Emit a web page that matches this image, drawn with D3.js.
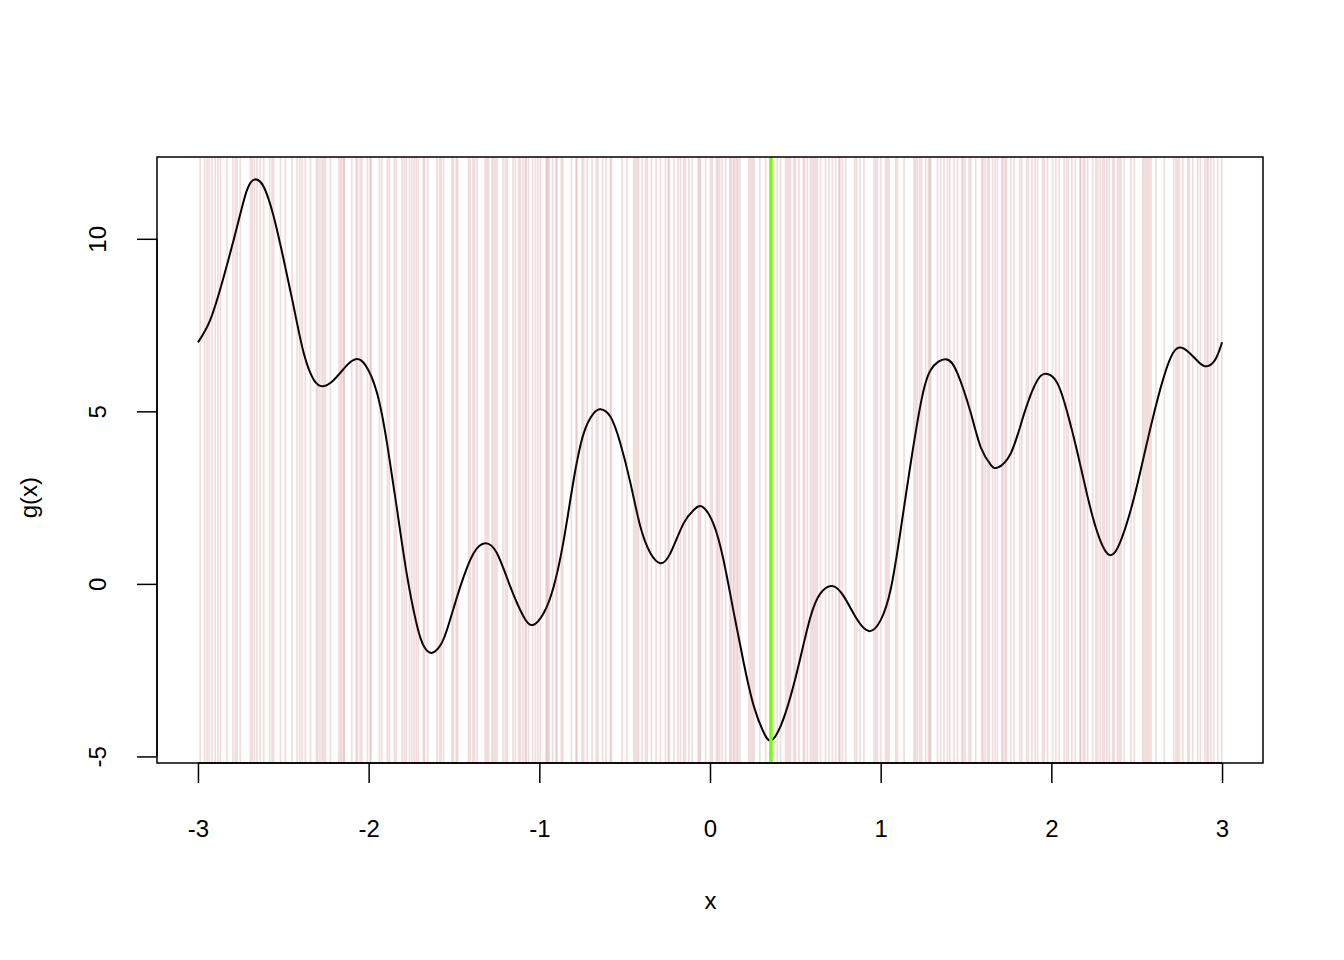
<!DOCTYPE html>
<html>
<head>
<meta charset="utf-8">
<script src="https://cdn.jsdelivr.net/npm/d3@7"></script>
<style>
  html, body { margin: 0; padding: 0; background: #fff; }
  svg { display: block; }
  text { font-family: "Liberation Sans", Arial, Helvetica, sans-serif; }
</style>
</head>
<body>
<svg id="chart" width="1344" height="960"></svg>
<script>
// ---- data ----
const curveX = [-3.0,-2.928,-2.849,-2.771,-2.713,-2.667,-2.615,-2.556,-2.497,-2.439,-2.380,-2.321,-2.267,-2.204,-2.136,-2.077,-2.019,-1.950,-1.892,-1.833,-1.774,-1.716,-1.675,-1.630,-1.585,-1.541,-1.463,-1.385,-1.317,-1.248,-1.170,-1.092,-1.037,-0.975,-0.916,-0.857,-0.799,-0.740,-0.682,-0.642,-0.584,-0.525,-0.466,-0.408,-0.349,-0.290,-0.232,-0.154,-0.095,-0.046,0.022,0.081,0.140,0.198,0.257,0.316,0.359,0.413,0.472,0.531,0.589,0.648,0.717,0.785,0.863,0.935,1.000,1.059,1.117,1.176,1.235,1.293,1.381,1.450,1.528,1.587,1.645,1.684,1.762,1.841,1.919,1.978,2.036,2.095,2.154,2.212,2.271,2.339,2.408,2.486,2.564,2.642,2.701,2.750,2.808,2.867,2.916,2.965,3.0];
const curveY = [7.0,7.65,8.90,10.35,11.41,11.72,11.51,10.64,9.38,8.03,6.68,5.91,5.73,5.91,6.29,6.51,6.34,5.52,4.07,2.14,0.21,-1.22,-1.82,-2.00,-1.82,-1.33,-0.08,0.89,1.18,0.89,-0.08,-0.95,-1.19,-0.85,-0.08,1.27,3.01,4.36,4.94,5.06,4.85,4.07,2.92,1.66,0.89,0.60,0.89,1.76,2.14,2.24,1.72,0.65,-0.85,-2.30,-3.55,-4.32,-4.54,-4.13,-3.26,-2.11,-0.95,-0.27,-0.06,-0.37,-1.04,-1.37,-1.05,-0.15,1.56,3.50,5.23,6.20,6.51,6.10,4.95,3.95,3.45,3.37,3.78,4.94,5.91,6.08,5.81,4.94,3.78,2.53,1.47,0.84,1.27,2.53,4.17,5.71,6.58,6.85,6.70,6.41,6.31,6.54,7.0];

const samples = [-2.987,-2.961,-2.947,-2.934,-2.918,-2.899,-2.883,-2.869,-2.830,-2.795,-2.781,-2.771,-2.752,-2.693,-2.683,-2.670,-2.654,-2.635,-2.615,-2.580,-2.566,-2.556,-2.517,-2.488,-2.449,-2.419,-2.404,-2.390,-2.371,-2.341,-2.306,-2.298,-2.286,-2.273,-2.263,-2.253,-2.224,-2.175,-2.165,-2.145,
-2.157,-2.144,-2.099,-2.073,-2.066,-2.050,-2.040,-2.007,-1.991,-1.985,-1.937,-1.923,-1.890,-1.878,-1.849,-1.839,-1.805,-1.792,-1.780,-1.761,-1.747,-1.733,-1.721,-1.708,-1.679,-1.673,-1.655,-1.600,-1.585,-1.575,-1.561,-1.512,-1.503,-1.487,-1.479,-1.415,-1.405,-1.389,-1.379,-1.365,-1.317,-1.307,-1.297,-1.277,-1.268,-1.258,-1.248,-1.213,-1.199,-1.189,-1.154,-1.141,-1.121,-1.111,-1.096,-1.082,-1.076,-1.063,
-1.039,-1.023,-1.008,-0.994,-0.961,-0.955,-0.949,-0.941,-0.922,-0.902,-0.896,-0.871,-0.863,-0.812,-0.785,-0.779,-0.750,-0.740,-0.720,-0.691,-0.666,-0.656,-0.629,-0.609,-0.584,-0.578,-0.515,-0.486,-0.447,-0.437,-0.427,-0.418,-0.398,-0.378,-0.368,-0.343,-0.316,-0.290,-0.261,-0.245,-0.238,-0.212,-0.187,-0.173,-0.154,-0.144,-0.124,-0.104,-0.069,-0.062,-0.056,-0.026,0.003,0.013,
0.038,0.046,0.057,0.072,0.091,0.116,0.124,0.136,0.144,0.155,0.163,0.175,0.228,0.238,0.248,0.257,0.292,0.326,0.394,0.413,0.443,0.453,0.462,0.472,0.492,0.501,0.521,0.547,0.554,0.570,0.589,0.599,0.609,0.619,0.629,0.648,0.677,0.697,0.717,0.736,0.755,0.761,0.775,0.795,0.848,0.859,0.879,0.902,0.961,0.971,0.981,1.000,1.029,1.039,1.049,1.088,1.098,
1.137,1.195,1.205,1.215,1.229,1.240,1.264,1.280,1.287,1.293,1.333,1.352,1.371,1.391,1.405,1.430,1.450,1.475,1.483,1.494,1.518,1.528,1.557,1.592,1.600,1.612,1.626,1.635,1.655,1.670,1.684,1.710,1.717,1.729,1.737,1.762,1.782,1.815,1.827,1.855,1.866,1.886,1.905,1.919,1.948,1.958,1.978,2.007,2.026,2.046,2.075,2.089,2.101,2.120,2.140,2.167,2.173,2.187,
2.196,2.212,2.242,2.261,2.271,2.286,2.300,2.310,2.325,2.339,2.359,2.368,2.388,2.398,2.408,2.427,2.466,2.486,2.535,2.544,2.554,2.564,2.574,2.584,2.613,2.662,2.717,2.730,2.740,2.750,2.770,2.799,2.808,2.828,2.857,2.873,2.900,2.912,2.920,2.935,2.951,2.975,2.998];

const bestX = 0.357;
const xTicks = [-3,-2,-1,0,1,2,3];
const yTicks = [-5,0,5,10];
const xLabel = "x";
const yLabel = "g(x)";

// ---- layout ----
const svg = d3.select("#chart");
const L = 157, R = 1263, T = 157, B = 763;

const yMin = d3.min(curveY), yMax = d3.max(curveY);
const xPad = 0.04 * 6, yPad = 0.04 * (yMax - yMin);
const x = d3.scaleLinear().domain([-3 - xPad, 3 + xPad]).range([L, R]);
const y = d3.scaleLinear().domain([yMin - yPad, yMax + yPad]).range([B, T]);

const pts = curveX.map((v, i) => [v, curveY[i]]);
const line = d3.line().x(d => x(d[0])).y(d => y(d[1])).curve(d3.curveNatural);

svg.append("path")
  .attr("d", line(pts))
  .attr("fill", "none")
  .attr("stroke", "#000")
  .attr("stroke-width", 2);

svg.append("g").selectAll("line")
  .data(samples).join("line")
  .attr("x1", d => x(d)).attr("x2", d => x(d))
  .attr("y1", T).attr("y2", B)
  .attr("stroke", "#a52a2a")
  .attr("stroke-opacity", 0.16)
  .attr("stroke-width", 1.7);

svg.append("line")
  .attr("x1", x(bestX)).attr("x2", x(bestX))
  .attr("y1", T).attr("y2", B)
  .attr("stroke", "#7CFC00")
  .attr("stroke-width", 3.5);

// box
svg.append("rect")
  .attr("x", L).attr("y", T).attr("width", R - L).attr("height", B - T)
  .attr("fill", "none").attr("stroke", "#000").attr("stroke-width", 1.5);

const fmt = d => String(d);

// x axis
const xa = svg.append("g").attr("transform", `translate(0,${B})`)
  .call(d3.axisBottom(x).tickValues(xTicks).tickSize(20).tickPadding(0).tickFormat(fmt));
xa.select(".domain").attr("d", `M${x(-3)},0H${x(3)}`).attr("stroke-width", 1.5);
xa.selectAll(".tick line").attr("stroke-width", 1.5);
xa.selectAll(".tick text").attr("y", 73.5).attr("dy", null)
  .attr("font-size", 24).attr("font-family", "Liberation Sans, Arial, sans-serif").attr("fill", "#000");

// y axis
const ya = svg.append("g").attr("transform", `translate(${L},0)`)
  .call(d3.axisLeft(y).tickValues(yTicks).tickSize(20).tickPadding(0).tickFormat(fmt));
ya.select(".domain").attr("d", `M0,${y(-5)}V${y(10)}`).attr("stroke-width", 1.5);
ya.selectAll(".tick line").attr("stroke-width", 1.5);
ya.selectAll(".tick text")
  .attr("x", null).attr("dy", null)
  .attr("transform", "translate(-51.5,0) rotate(-90)")
  .attr("text-anchor", "middle")
  .attr("font-size", 24).attr("font-family", "Liberation Sans, Arial, sans-serif").attr("fill", "#000");

// axis titles
svg.append("text").attr("x", (x(-3) + x(3)) / 2 + 0.5).attr("y", 909)
  .attr("text-anchor", "middle").attr("font-size", 24).text(xLabel);
svg.append("text")
  .attr("transform", `translate(37,${(y(-5) + y(10)) / 2}) rotate(-90)`)
  .attr("text-anchor", "middle").attr("font-size", 24).text(yLabel);
</script>
</body>
</html>
